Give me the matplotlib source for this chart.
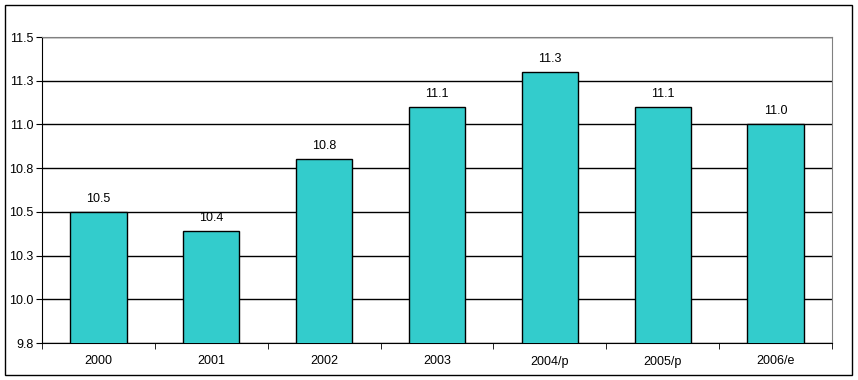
import matplotlib
matplotlib.use("Agg")
import matplotlib.pyplot as plt
from matplotlib.patches import Rectangle
from decimal import Decimal, ROUND_HALF_UP
import numpy as np

years = ["2000", "2001", "2002", "2003", "2004/p", "2005/p", "2006/e"]
values = [10.5, 10.39, 10.8, 11.1, 11.3, 11.1, 11.0]
yticks = [9.75, 10.0, 10.25, 10.5, 10.75, 11.0, 11.25, 11.5]


def fmt1(v):
    # Excel-style rounding (half up), so 11.25 shows as 11.3
    return str(Decimal(str(v)).quantize(Decimal("0.1"), rounding=ROUND_HALF_UP))


plt.rcParams["font.family"] = ["Liberation Sans", "DejaVu Sans"]

fig = plt.figure(figsize=(8.58, 3.80), dpi=100)
ax = fig.add_axes([42/858, 37/380, 790/858, 306/380])

x = np.arange(len(years))
ax.bar(x, values, width=0.5, color="#33CCCC", edgecolor="black", linewidth=1, zorder=3)

for xi, v in zip(x, values):
    ax.annotate(fmt1(v), (xi, v), xytext=(0, 5), textcoords="offset points",
                ha="center", va="bottom", fontsize=9)

ax.set_xlim(-0.5, len(years) - 0.5)
ax.set_ylim(9.75, 11.5)
ax.set_yticks(yticks)
ax.set_yticklabels([fmt1(t) for t in yticks], fontsize=9)
ax.yaxis.grid(True, color="black", linewidth=1, zorder=0)

ax.set_xticks(x)
ax.set_xticklabels(years, fontsize=9)
ax.tick_params(axis="x", length=0, pad=9)
ax.set_xticks(np.arange(-0.5, len(years)), minor=True)
ax.tick_params(axis="x", which="minor", length=4, direction="out", color="black")
ax.tick_params(axis="y", length=4, direction="out", pad=2)

ax.spines["top"].set_color("#808080")
ax.spines["right"].set_color("#808080")
ax.spines["left"].set_color("black")
ax.spines["bottom"].set_color("black")

fig.add_artist(Rectangle((5/858, 5/380), 847/858, 370/380, transform=fig.transFigure,
                         fill=False, edgecolor="black", linewidth=1))

fig.savefig("out.png", dpi=100)
